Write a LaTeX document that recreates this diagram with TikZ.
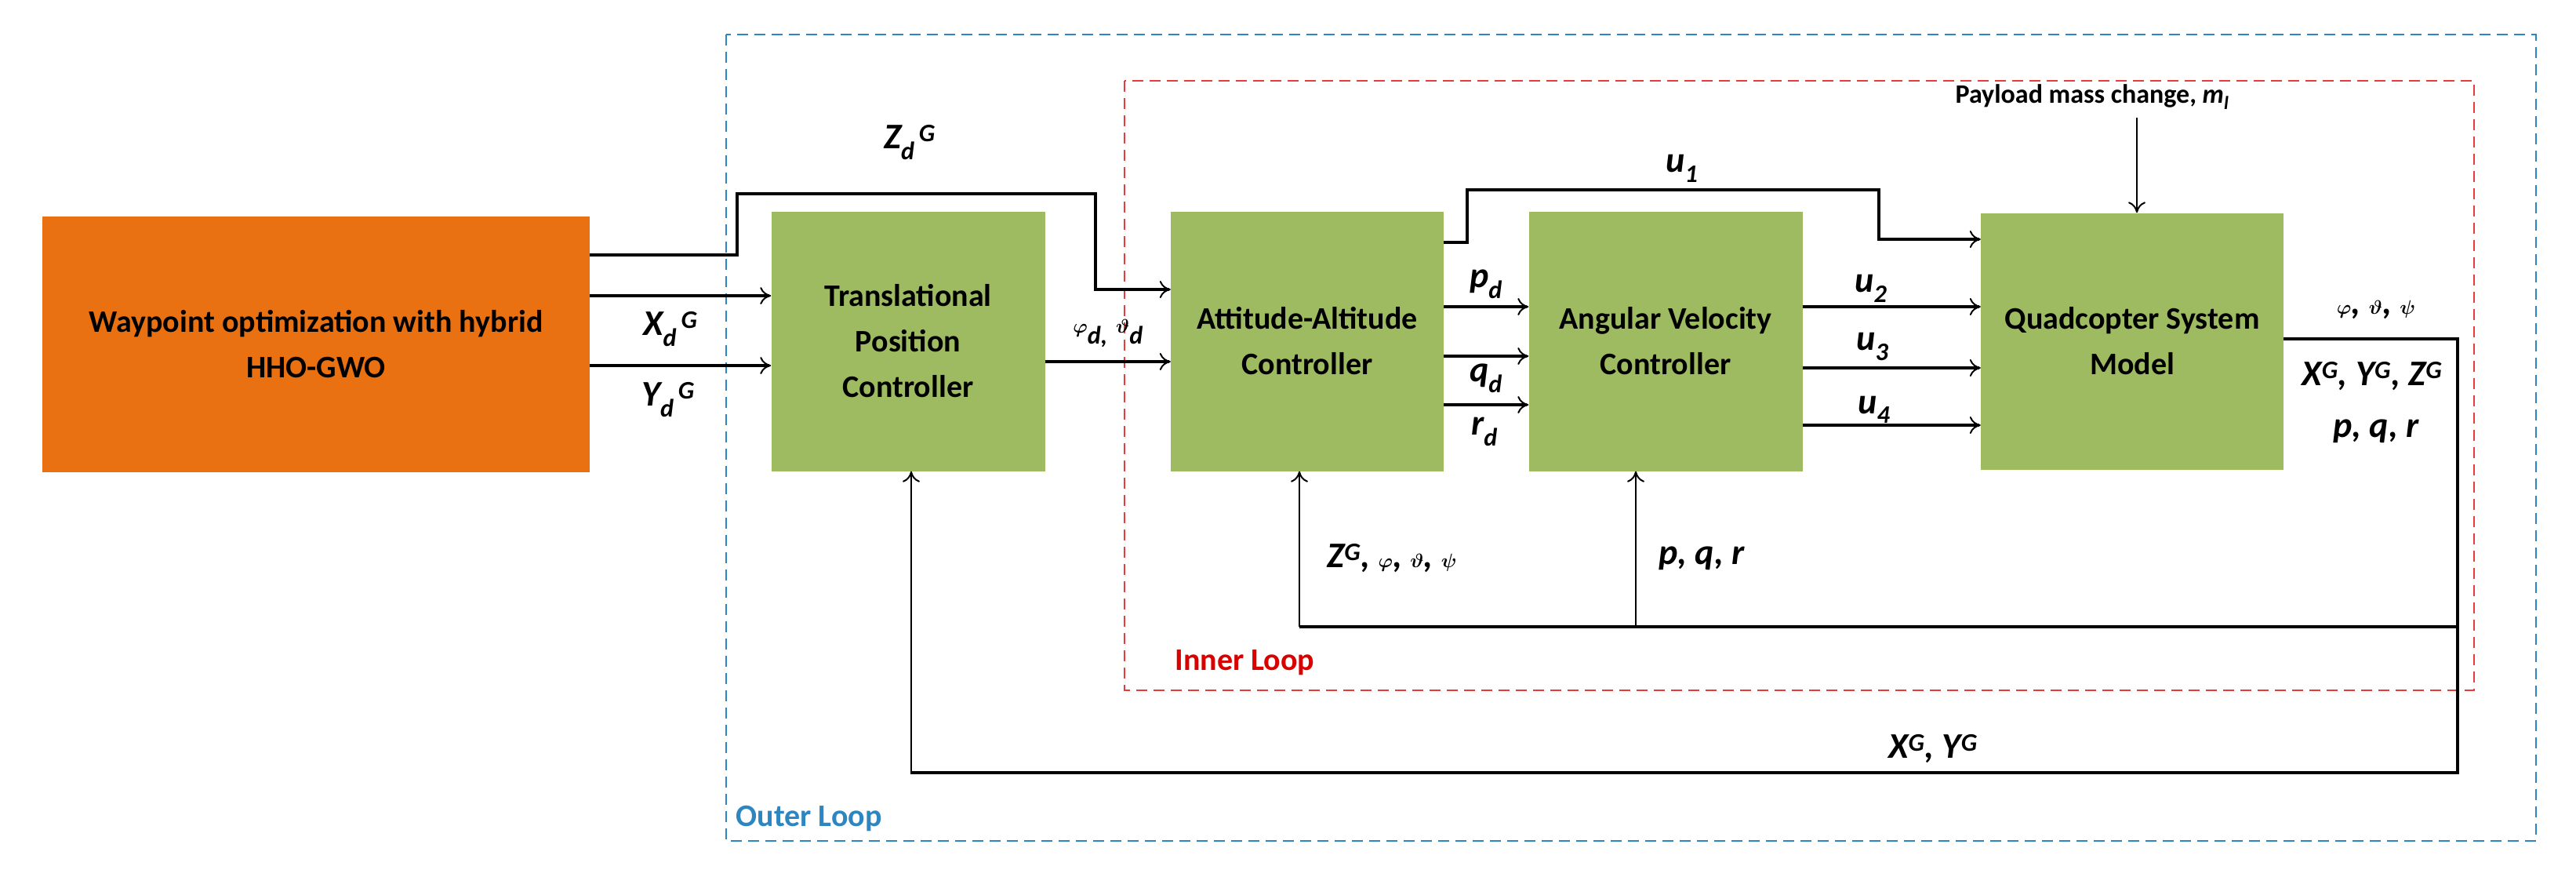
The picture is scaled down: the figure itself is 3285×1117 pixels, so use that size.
\documentclass[tikz,border=0pt]{standalone}
\usepackage{amsmath,bm}
\usepackage{fontspec}
\setmainfont{Carlito}
\usetikzlibrary{arrows.meta}
\definecolor{org}{RGB}{233,113,18}
\definecolor{grn}{RGB}{158,187,98}
\definecolor{blu}{RGB}{46,134,193}
\definecolor{rd}{RGB}{230,60,60}
\newcommand{\lb}[1]{\textbf{\textit{#1}}}
\newcommand{\gk}[1]{$\bm{#1}$}
\begin{document}
\begin{tikzpicture}[x=1pt,y=-1pt,
  blk/.style={draw=none,inner sep=0pt,align=center,font=\fontsize{40}{58}\selectfont},
  ln/.style={line width=4pt},
  ar/.style={line width=4pt,-{To[length=14pt,width=22pt,line width=2pt]}},
  far/.style={line width=2.5pt,-{To[length=14pt,width=22pt,line width=2pt]}},
  lab/.style={font=\fontsize{46}{50}\selectfont\bfseries\itshape,inner sep=1pt}]
\useasboundingbox (0,0) rectangle (3285,1117);
% loops
\draw[blu,dashed,line width=2pt,dash pattern=on 14pt off 8pt] (926,44) rectangle (3234,1072);
\draw[rd,dashed,line width=2pt,dash pattern=on 14pt off 8pt] (1434,103) rectangle (3155,880);
\node[blu,font=\fontsize{40}{44}\selectfont\bfseries,anchor=west] (ol) at (935,1044) {Outer Loop};
\node[red!85!black,font=\fontsize{40}{44}\selectfont\bfseries,anchor=west] (il) at (1495,845) {Inner Loop};
% blocks
\node[blk,fill=org,minimum width=698pt,minimum height=326pt,font=\fontsize{40}{58}\selectfont\bfseries] (w) at (403,439) {Waypoint optimization with hybrid\\HHO-GWO};
\node[blk,fill=grn,minimum width=349pt,minimum height=331pt,font=\fontsize{40}{58}\selectfont\bfseries] (t) at (1158,435) {Translational\\Position\\Controller};
\node[blk,fill=grn,minimum width=348pt,minimum height=331pt,font=\fontsize{40}{58}\selectfont\bfseries] (a) at (1667,435) {Attitude-Altitude\\Controller};
\node[blk,fill=grn,minimum width=349pt,minimum height=331pt,font=\fontsize{40}{58}\selectfont\bfseries] (v) at (2124,435) {Angular Velocity\\Controller};
\node[blk,fill=grn,minimum width=386pt,minimum height=327pt,font=\fontsize{40}{58}\selectfont\bfseries] (q) at (2719,435) {Quadcopter System\\Model};
% inputs
\draw[ar] (w.east|-0,377) -- (t.west|-0,377);
\draw[ar] (w.east|-0,466) -- (t.west|-0,466);
\draw[ln] (w.east|-0,325) -- (940,325) -- (940,247) -- (1397,247) -- (1397,369);
\draw[ar] (1395,369) -- (a.west|-0,369);
\draw[ar] (t.east|-0,461) -- (a.west|-0,461);
\node[lab] (zd) at (1160,182) {Z\textsubscript{d}\textsuperscript{\,G}};
\node[lab] (xd) at (855,420) {X\textsubscript{d}\textsuperscript{\,G}};
\node[lab] (yd) at (852,510) {Y\textsubscript{d}\textsuperscript{\,G}};
\node[lab] (pt) at (1413,425) {\gk{\varphi}\textsubscript{d,} \gk{\vartheta}\textsubscript{d}};
% attitude -> angular
\draw[ar] (a.east|-0,391) -- (v.west|-0,391);
\draw[ar] (a.east|-0,454) -- (v.west|-0,454);
\draw[ar] (a.east|-0,516) -- (v.west|-0,516);
\node[lab] (pd) at (1895,362) {p\textsubscript{d}};
\node[lab] (qd) at (1895,482) {q\textsubscript{d}};
\node[lab] (rd) at (1893,550) {r\textsubscript{d}};
% u1
\draw[ln] (a.east|-0,309) -- (1871,309) -- (1871,242) -- (2396,242) -- (2396,305);
\draw[ar] (2394,305) -- (q.west|-0,305);
\node[lab] (u1) at (2145,215) {u\textsubscript{1}};
\draw[ar] (v.east|-0,391) -- (q.west|-0,391);
\draw[ar] (v.east|-0,469) -- (q.west|-0,469);
\draw[ar] (v.east|-0,542) -- (q.west|-0,542);
\node[lab] (u2) at (2386,368) {u\textsubscript{2}};
\node[lab] (u3) at (2388,442) {u\textsubscript{3}};
\node[lab] (u4) at (2390,522) {u\textsubscript{4}};
% payload
\node[font=\fontsize{34}{38}\selectfont\bfseries,anchor=west] (pm) at (2490,124) {Payload mass change, \textit{m\textsubscript{l}}};
\draw[line width=2pt,-{To[length=14pt,width=22pt,line width=2pt]}] (2725,150) -- (q.north-|2725,0);
% outputs
\draw[ln] (q.east|-0,432) -- (3134,432) -- (3134,987);
\draw[ln] (3134,799) -- (1657,799);
\draw[far] (1657,799) -- (a.south-|1657,0);
\draw[far] (2086,799) -- (v.south-|2086,0);
\draw[ln] (3134,985) -- (1162,985);
\draw[far] (1162,987) -- (t.south-|1162,0);
\node[lab] (o1) at (3030,395) {\gk{\varphi}, \gk{\vartheta}, \gk{\psi}};
\node[lab] (o2) at (3025,480) {X\textsuperscript{G}, Y\textsuperscript{G}, Z\textsuperscript{G}};
\node[lab] (o3) at (3030,550) {p, q, r};
\node[lab] (f1) at (1775,712) {Z\textsuperscript{G}, \gk{\varphi}, \gk{\vartheta}, \gk{\psi}};
\node[lab] (f2) at (2170,712) {p, q, r};
\node[lab] (f3) at (2465,955) {X\textsuperscript{G}, Y\textsuperscript{G}};
\end{tikzpicture}
\end{document}
